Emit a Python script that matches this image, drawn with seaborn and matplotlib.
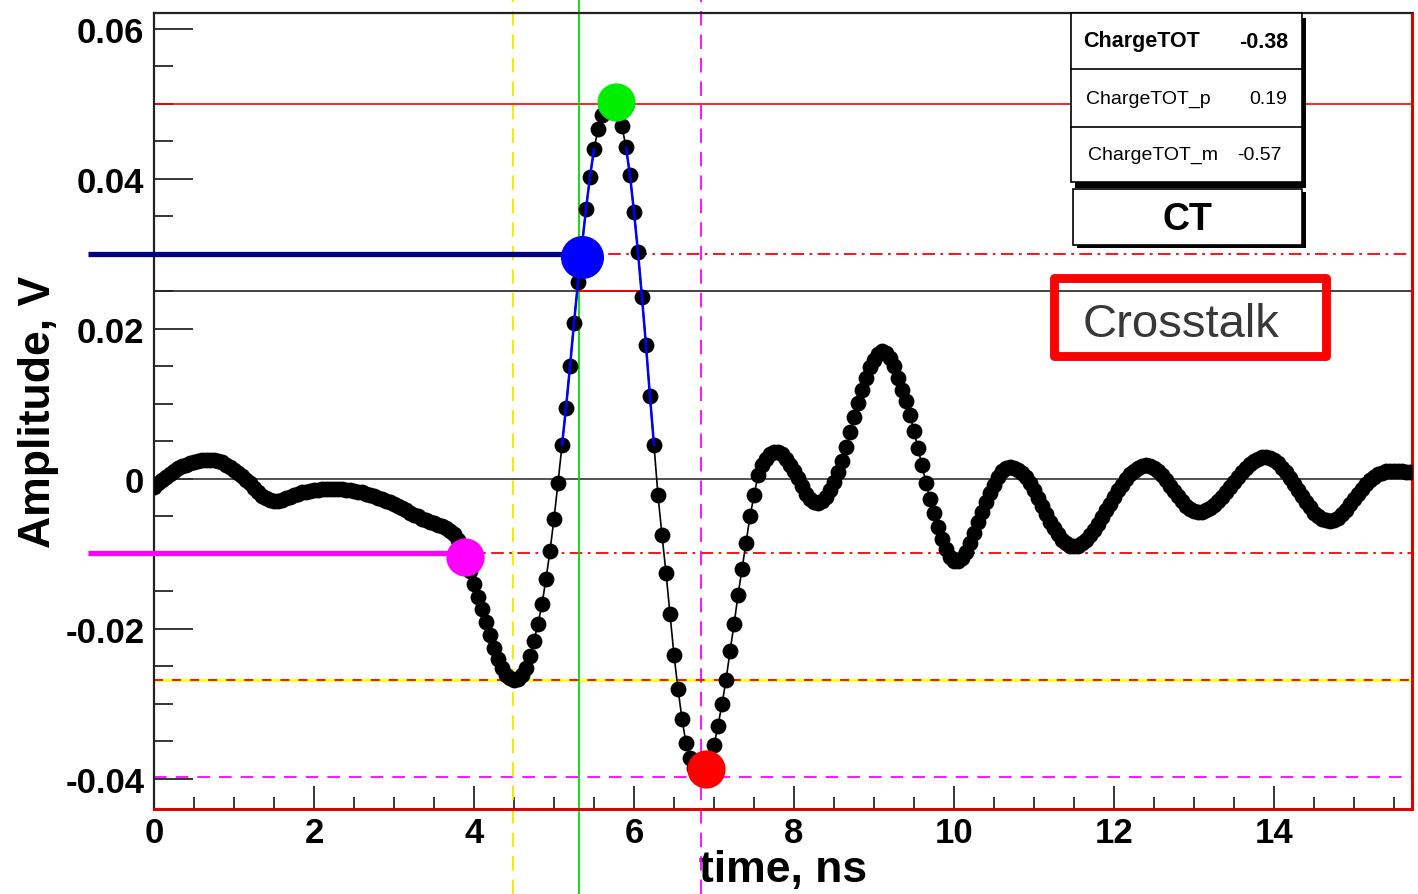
import numpy as np
import pandas as pd
import matplotlib
matplotlib.use("Agg")
import matplotlib.pyplot as plt
import seaborn as sns
from matplotlib.patches import Rectangle
from matplotlib.ticker import MultipleLocator

# ---------------- data ----------------
dt_ns = 0.05
amplitude_v = [
    -0.0011, -0.0006, -0.0002, 0.0003, 0.0007, 0.0010, 0.0014, 0.0017, 0.0019, 0.0021,
    0.0023, 0.0024, 0.0025, 0.0025, 0.0025, 0.0025, 0.0024, 0.0022, 0.0019, 0.0016,
    0.0012, 0.0008, 0.0004, -0.0001, -0.0006, -0.0012, -0.0018, -0.0023, -0.0026, -0.0028,
    -0.0029, -0.0029, -0.0028, -0.0026, -0.0024, -0.0022, -0.0020, -0.0018, -0.0017, -0.0016,
    -0.0015, -0.0015, -0.0014, -0.0014, -0.0014, -0.0014, -0.0014, -0.0014, -0.0015, -0.0015,
    -0.0016, -0.0017, -0.0018, -0.0020, -0.0021, -0.0023, -0.0025, -0.0027, -0.0029, -0.0031,
    -0.0034, -0.0036, -0.0039, -0.0042, -0.0045, -0.0048, -0.0050, -0.0053, -0.0055, -0.0057,
    -0.0059, -0.0061, -0.0063, -0.0066, -0.0069, -0.0074, -0.0082, -0.0093, -0.0106, -0.0123,
    -0.0140, -0.0157, -0.0174, -0.0191, -0.0208, -0.0225, -0.0240, -0.0252, -0.0261, -0.0266,
    -0.0268, -0.0267, -0.0262, -0.0252, -0.0236, -0.0216, -0.0193, -0.0167, -0.0133, -0.0096,
    -0.0053, -0.0005, 0.0045, 0.0095, 0.0150, 0.0208, 0.0262, 0.0312, 0.0360, 0.0403,
    0.0440, 0.0466, 0.0485, 0.0497, 0.0503, 0.0500, 0.0489, 0.0470, 0.0442, 0.0405,
    0.0356, 0.0302, 0.0242, 0.0178, 0.0110, 0.0045, -0.0022, -0.0075, -0.0125, -0.0180,
    -0.0235, -0.0280, -0.0320, -0.0352, -0.0372, -0.0385, -0.0392, -0.0395, -0.0390, -0.0375,
    -0.0355, -0.0329, -0.0300, -0.0268, -0.0230, -0.0194, -0.0155, -0.0120, -0.0085, -0.0050,
    -0.0022, 0.0005, 0.0018, 0.0027, 0.0033, 0.0036, 0.0036, 0.0033, 0.0027, 0.0019,
    0.0010, 0.0001, -0.0010, -0.0020, -0.0027, -0.0031, -0.0032, -0.0030, -0.0024, -0.0015,
    -0.0004, 0.0009, 0.0024, 0.0042, 0.0062, 0.0082, 0.0101, 0.0119, 0.0135, 0.0149,
    0.0159, 0.0166, 0.0170, 0.0168, 0.0161, 0.0150, 0.0135, 0.0118, 0.0104, 0.0085,
    0.0064, 0.0041, 0.0018, -0.0005, -0.0027, -0.0046, -0.0064, -0.0080, -0.0094, -0.0104,
    -0.0109, -0.0110, -0.0106, -0.0097, -0.0085, -0.0072, -0.0058, -0.0044, -0.0031, -0.0019,
    -0.0008, 0.0003, 0.0010, 0.0014, 0.0016, 0.0015, 0.0012, 0.0008, 0.0002, -0.0005,
    -0.0015, -0.0025, -0.0036, -0.0047, -0.0057, -0.0066, -0.0074, -0.0081, -0.0086, -0.0089,
    -0.0090, -0.0089, -0.0086, -0.0081, -0.0075, -0.0068, -0.0060, -0.0051, -0.0042, -0.0033,
    -0.0024, -0.0015, -0.0008, 0.0000, 0.0006, 0.0011, 0.0015, 0.0017, 0.0018, 0.0017,
    0.0015, 0.0010, 0.0005, -0.0002, -0.0009, -0.0016, -0.0023, -0.0030, -0.0036, -0.0040,
    -0.0043, -0.0044, -0.0044, -0.0042, -0.0039, -0.0035, -0.0030, -0.0024, -0.0018, -0.0011,
    -0.0004, 0.0003, 0.0009, 0.0015, 0.0020, 0.0024, 0.0027, 0.0029, 0.0029, 0.0028,
    0.0025, 0.0021, 0.0015, 0.0009, 0.0001, -0.0007, -0.0015, -0.0023, -0.0031, -0.0038,
    -0.0045, -0.0050, -0.0053, -0.0055, -0.0056, -0.0055, -0.0052, -0.0047, -0.0041, -0.0034,
    -0.0027, -0.0020, -0.0013, -0.0007, -0.0002, 0.0002, 0.0006, 0.0008, 0.0010, 0.0011,
    0.0011, 0.0010, 0.0010, 0.0009, 0.0009,
]
time_ns = np.round(np.arange(len(amplitude_v)) * dt_ns, 2)

x_ticks = [0, 2, 4, 6, 8, 10, 12, 14]
x_tick_labels = ["0", "2", "4", "6", "8", "10", "12", "14"]
y_ticks = [-0.04, -0.02, 0.0, 0.02, 0.04, 0.06]
y_tick_labels = ["-0.04", "-0.02", "0", "0.02", "0.04", "0.06"]

peak_t, peak_v = 5.775, 0.0503      # green marker (maximum)
min_t, min_v = 6.90, -0.0387        # red marker (minimum)
rise_t, rise_v = 5.35, 0.0296       # blue marker (upper threshold crossing)
pre_t, pre_v = 3.89, -0.0104        # magenta marker (lower threshold crossing)

max_level = 0.050
min_level = -0.0397
pre_min_level = -0.0268
high_thr = 0.030
low_thr = -0.0099
half_level = 0.025
half_cross = [5.30, 6.11]
pre_min_time = 4.49
thr_time = 5.31
min_time = 6.84
fit_lo, fit_hi = 0.004, 0.0455

stat_names = ["ChargeTOT", "ChargeTOT_p", "ChargeTOT_m"]
stat_values = ["-0.38", "0.19", "-0.57"]
box_title = "CT"
note_text = "Crosstalk"

# ---------------- figure ----------------
sns.set_theme(style="white")
plt.rcParams['font.family'] = ['Liberation Sans', 'DejaVu Sans']
W, H = 1418, 895
fig = plt.figure(figsize=(W / 100, H / 100), dpi=100)
fig.patch.set_facecolor('white')
ax = fig.add_axes([154 / W, 1 - 810 / H, (1412 - 154) / W, (810 - 14) / H])
ax.set_facecolor('white')
ax.set_xlim(0, 15.725)
ax.set_ylim(-0.044, 0.06213)

def fx(x):
    return x / W

def fy(y):
    return 1 - y / H

LEFT_EXT = -0.825          # horizontal threshold bars start left of the frame
VLO, VHI = -0.107, 1.018   # vertical lines run past the frame

# reference lines
ax.axhline(max_level, color='#ff0000', lw=1.2, zorder=1)
ax.axhline(0.0, color='#333333', lw=1.2, zorder=1)
ax.axhline(half_level, color='#222222', lw=1.2, zorder=1)
ax.plot(half_cross, [half_level, half_level], color='#ff0000', lw=1.3, zorder=1.5)
ax.hlines(high_thr, rise_t, 15.725, colors='#ff0000', lw=1.3,
          linestyles=[(0, (7, 3, 1.5, 3))], zorder=1)
ax.hlines(low_thr, pre_t, 15.725, colors='#ff0000', lw=1.3,
          linestyles=[(0, (7, 3, 1.5, 3))], zorder=1)
ax.axhline(pre_min_level, color='#ffff00', lw=1.8, zorder=1)
ax.axhline(pre_min_level, color='#ff0000', lw=1.3, ls=(0, (5, 5)), zorder=1.2)
ax.axhline(min_level, color='#ff00ff', lw=1.3, ls=(0, (7, 5)), zorder=1)

ax.axvline(pre_min_time, ymin=VLO, ymax=VHI, color='#f5e600', lw=1.3,
           ls=(0, (8, 5)), clip_on=False, zorder=1)
ax.axvline(thr_time, ymin=VLO, ymax=VHI, color='#00dd00', lw=1.3,
           clip_on=False, zorder=1)
ax.axvline(min_time, ymin=VLO, ymax=VHI, color='#ff00ff', lw=1.3,
           ls=(0, (8, 5)), clip_on=False, zorder=1)

# waveform: thin connecting line + sample dots
df = pd.DataFrame({'time': time_ns, 'amp': amplitude_v})
sns.lineplot(data=df, x='time', y='amp', ax=ax, color='black', lw=1.2,
             sort=False, estimator=None, zorder=3)
sns.scatterplot(data=df, x='time', y='amp', ax=ax, color='black', s=130,
                linewidth=0, marker='o', zorder=3.5)

# blue fit segments on the main pulse edges
pulse = df[(df.time > 5.0) & (df.time < 6.4)]
rise = pulse[(pulse.time < peak_t) & pulse.amp.between(fit_lo, fit_hi)]
fall = pulse[(pulse.time > peak_t) & pulse.amp.between(fit_lo, fit_hi)]
for seg in (rise, fall):
    sns.lineplot(data=seg, x='time', y='amp', ax=ax, color='#0000ff', lw=1.8,
                 sort=False, estimator=None, zorder=4)

# threshold bars
ax.hlines(high_thr, LEFT_EXT, rise_t, colors='#000080', lw=3.8, clip_on=False, zorder=5)
ax.hlines(low_thr, LEFT_EXT, pre_t, colors='#ff00ff', lw=3.8, clip_on=False, zorder=5)

# special points
ax.plot([peak_t], [peak_v], 'o', color='#00ee00', ms=27.5, mew=0, zorder=6)
ax.plot([min_t], [min_v], 'o', color='#ff0000', ms=27.5, mew=0, zorder=6)
ax.plot([pre_t], [pre_v], 'o', color='#ff00ff', ms=27.5, mew=0, zorder=6)
ax.plot([rise_t], [rise_v], 'o', color='#0000ff', ms=31, mew=0, zorder=6)

# axes styling
for s in ('top', 'left'):
    ax.spines[s].set_color('#222222')
    ax.spines[s].set_linewidth(1.6)
for s in ('bottom', 'right'):
    ax.spines[s].set_color('#e00000')
    ax.spines[s].set_linewidth(2.2)

ax.set_xticks(x_ticks, x_tick_labels)
ax.set_yticks(y_ticks, y_tick_labels)
ax.xaxis.set_minor_locator(MultipleLocator(0.5))
ax.yaxis.set_minor_locator(MultipleLocator(0.005))
ax.tick_params(which='both', direction='in', top=False, right=False,
               bottom=True, left=True, color='black', width=1.1)
ax.tick_params(axis='y', which='major', length=28, pad=7)
ax.tick_params(axis='y', which='minor', length=13.7)
ax.tick_params(axis='x', which='major', length=16.5, pad=5)
ax.tick_params(axis='x', which='minor', length=8.5)
for lab in ax.get_xticklabels() + ax.get_yticklabels():
    lab.set_fontsize(25)
    lab.set_fontweight('bold')
    lab.set_color('black')

ax.set_xlabel('time, ns', fontsize=32, fontweight='bold', color='black')
ax.set_ylabel('Amplitude, V', fontsize=32, fontweight='bold', color='black')
ax.xaxis.label.set_va('center')
ax.yaxis.label.set_va('center')
ax.xaxis.set_label_coords(0.5, -0.076)
ax.yaxis.label.set_ha('center')
ax.yaxis.set_label_coords(-0.092, 0.5)

# ---------------- stats box ----------------
def rect_px(x0, y0, x1, y1, **kw):
    r = Rectangle((fx(x0), fy(y1)), (x1 - x0) / W, (y1 - y0) / H,
                  transform=fig.transFigure, **kw)
    fig.add_artist(r)
    return r

rect_px(1075, 19, 1306, 189, facecolor='black', edgecolor='none', zorder=10)
rect_px(1071, 14, 1302, 183, facecolor='white', edgecolor='black', lw=1.2, zorder=11)
row_edges = [14, 70, 128, 183]
for yb in row_edges[1:-1]:
    fig.add_artist(plt.Line2D([fx(1071), fx(1302)], [fy(yb), fy(yb)],
                              transform=fig.transFigure, color='black', lw=1.2, zorder=12))
name_x = [1083, 1086, 1088]
val_x = [1288, 1287, 1282]
for i, (nm, vl) in enumerate(zip(stat_names, stat_values)):
    yc = (row_edges[i] + row_edges[i + 1]) / 2
    wt = 'bold' if i == 0 else 'normal'
    fsz = 15.5 if i == 0 else 14
    fig.text(fx(name_x[i]), fy(yc), nm, ha='left', va='center', fontsize=fsz,
             fontweight=wt, color='black', zorder=13)
    fig.text(fx(val_x[i]), fy(yc), vl, ha='right', va='center', fontsize=fsz,
             fontweight=wt, color='black', zorder=13)

# CT title box
rect_px(1077, 193, 1306, 249, facecolor='black', edgecolor='none', zorder=10)
rect_px(1073, 190, 1302, 246, facecolor='white', edgecolor='black', lw=1.2, zorder=11)
fig.text(fx(1187), fy(220), box_title, ha='center', va='center', fontsize=27,
         fontweight='bold', color='black', zorder=13)

# Crosstalk annotation box
rect_px(1054, 279, 1326, 357, facecolor='none', edgecolor='#ff0000', lw=6.4,
        joinstyle='round', zorder=11)
fig.text(fx(1083), fy(325), note_text, ha='left', va='center', fontsize=34,
         color='#383838', zorder=13)

fig.savefig('out.png', dpi=100, facecolor='white')
